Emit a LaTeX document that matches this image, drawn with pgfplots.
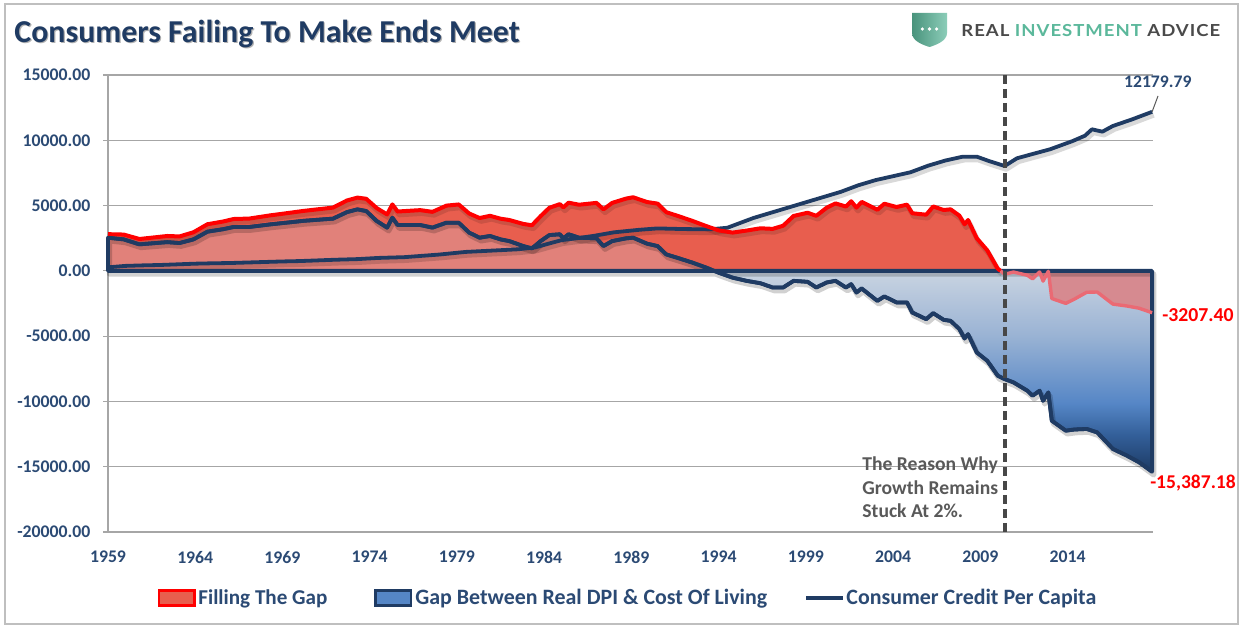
\documentclass[border=0pt]{standalone}
\usepackage{fontspec}
\setmainfont{Carlito}
\newfontfamily\logofont[FakeStretch=1.12, LetterSpace=6]{Lato}
\usepackage{pgfplots}
\pgfplotsset{compat=1.18}
\usepackage{pgfplotstable}

\definecolor{navy}{HTML}{1F3B63}
\definecolor{labnavy}{HTML}{2B4A74}
\definecolor{redline}{HTML}{FF0000}
\definecolor{redfill}{HTML}{E85E4E}
\definecolor{pinkfill}{HTML}{E1817A}
\definecolor{negfill}{HTML}{D68A90}
\definecolor{negline}{HTML}{EA6A74}
\definecolor{gb0}{HTML}{1C3A64}
\definecolor{gb1}{HTML}{335F99}
\definecolor{gb2}{HTML}{5586C6}
\definecolor{gb3}{HTML}{9AB3D4}
\definecolor{gb4}{HTML}{C8D3E1}
\definecolor{teal}{HTML}{5BB89B}
\definecolor{logogray}{HTML}{4A4A4A}
\definecolor{annot}{HTML}{595959}

\pgfdeclareverticalshading{bluegap}{100bp}{color(0bp)=(gb0); color(25bp)=(gb0); color(32bp)=(gb1); color(38bp)=(gb2); color(51bp)=(gb3); color(63bp)=(gb4); color(100bp)=(gb4)}

\pgfplotstableread{
x y
1959.0 2540
1959.9 2410
1960.8 2030
1962.4 2200
1963.1 2130
1963.9 2410
1964.7 3000
1965.6 3190
1966.2 3360
1967.1 3360
1968.3 3560
1969.3 3700
1970.2 3830
1971.9 4000
1972.7 4500
1973.3 4710
1973.8 4580
1974.4 3820
1975.0 3310
1975.3 4070
1975.6 3510
1976.9 3510
1977.6 3310
1978.4 3690
1979.1 3690
1979.7 2930
1980.3 2540
1980.9 2670
1981.5 2410
1982.0 2280
1982.8 1900
1983.3 1720
1983.8 2280
1984.3 2740
1984.9 2800
1985.1 2490
1985.4 2800
1986.0 2540
1987.0 2490
1987.4 1900
1987.9 2280
1988.7 2490
1989.1 2540
1989.9 2080
1990.5 1900
1991.0 1260
1991.8 930
1992.5 630
1993.3 245
1994.0 -140
1994.8 -520
1995.6 -765
1996.4 -950
1997.1 -1275
1997.7 -1275
1998.3 -765
1999.1 -840
1999.6 -1275
2000.2 -890
2000.7 -765
2001.3 -1275
2001.6 -1020
2001.9 -1660
2002.2 -1350
2003.1 -2300
2003.5 -1960
2004.2 -2420
2004.8 -2420
2005.1 -3190
2005.9 -3700
2006.3 -3240
2006.9 -3750
2007.3 -3830
2007.8 -4460
2008.1 -5180
2008.3 -4850
2008.8 -6250
2009.4 -6890
2010.0 -8030
2010.4 -8290
2010.9 -8540
2011.7 -9180
2012.0 -9560
2012.4 -9180
2012.6 -9950
2012.9 -9310
2013.1 -11480
2013.9 -12240
2014.4 -12150
2015.1 -12110
2015.7 -12370
2016.6 -13640
2017.4 -14150
2018.1 -14660
2018.85 -15387
}\gaptab

\pgfplotstableread{
x y
1959.0 2540
1959.9 2410
1960.8 2030
1962.4 2200
1963.1 2130
1963.9 2410
1964.7 3000
1965.6 3190
1966.2 3360
1967.1 3360
1968.3 3560
1969.3 3700
1970.2 3830
1971.9 4000
1972.7 4500
1973.3 4710
1973.8 4580
1974.4 3820
1975.0 3310
1975.3 4070
1975.6 3510
1976.9 3510
1977.6 3310
1978.4 3690
1979.1 3690
1979.7 2930
1980.3 2540
1980.9 2670
1981.5 2410
1982.0 2280
1982.8 1900
1983.3 1720
1983.8 2280
1984.3 2740
1984.9 2800
1985.1 2490
1985.4 2800
1986.0 2540
1987.0 2490
1987.4 1900
1987.9 2280
1988.7 2490
1989.1 2540
1989.9 2080
1990.5 1900
1991.0 1260
1991.8 930
1992.5 630
1993.3 245
1993.75 0
}\gappos

\pgfplotstableread{
x y
1959.0 270
1960.0 380
1961.0 420
1962.0 450
1963.0 500
1964.0 550
1965.0 580
1966.0 600
1967.0 640
1968.0 680
1969.0 720
1970.0 750
1971.0 800
1972.0 850
1973.3 900
1974.5 990
1976.0 1050
1977.0 1150
1978.0 1250
1979.5 1450
1981.0 1550
1982.5 1650
1983.5 1800
1984.3 2100
1985.0 2350
1986.0 2520
1986.8 2670
1988.0 2950
1989.5 3150
1990.5 3250
1992.0 3200
1993.5 3180
1994.5 3300
1996.0 4050
1997.0 4450
1998.0 4850
1999.0 5250
2000.0 5650
2001.0 6050
2002.0 6550
2003.0 6950
2004.0 7250
2005.0 7550
2006.0 8050
2007.0 8450
2008.0 8745
2008.8 8745
2009.5 8410
2010.4 8030
2011.1 8620
2012.0 8950
2013.0 9310
2014.3 9945
2015.0 10350
2015.4 10840
2016.0 10660
2016.6 11095
2017.7 11600
2018.85 12180
}\credtab

\pgfplotstableread{
x y
1959.0 2810
1959.9 2780
1960.8 2440
1962.4 2670
1963.1 2635
1963.9 2955
1964.7 3570
1965.6 3780
1966.2 3970
1967.1 4005
1968.3 4250
1969.3 4425
1970.2 4590
1971.9 4845
1972.7 5390
1973.3 5610
1973.8 5520
1974.4 4810
1975.0 4320
1975.3 5090
1975.6 4545
1976.9 4650
1977.6 4520
1978.4 4995
1979.1 5085
1979.7 4395
1980.3 4045
1980.9 4215
1981.5 3995
1982.0 3895
1982.8 3595
1983.3 3490
1983.8 4190
1984.3 4830
1984.9 5110
1985.1 4860
1985.4 5220
1986.0 5065
1987.0 5205
1987.4 4710
1987.9 5205
1988.7 5535
1989.1 5635
1989.9 5270
1990.5 5150
1991.0 4495
1991.8 4145
1992.5 3825
1993.3 3425
1994.0 3100
1994.8 2930
1995.6 3085
1996.4 3260
1997.1 3215
1997.7 3455
1998.3 4205
1999.1 4450
1999.6 4215
2000.2 4840
2000.7 5165
2001.3 4925
2001.6 5330
2001.9 4840
2002.2 5280
2003.1 4680
2003.5 5140
2004.2 4890
2004.8 5070
2005.1 4410
2005.9 4300
2006.3 4930
2006.9 4660
2007.3 4710
2007.8 4230
2008.1 3565
2008.3 3895
2008.8 2495
2009.4 1570
2010.0 170
2010.16 0
}\redpos

\pgfplotstableread{
x y
2010.16 0
2010.4 -260
2010.9 -90
2011.7 -340
2012.0 -610
2012.4 -85
2012.6 -785
2012.9 -35
2013.1 -2120
2013.9 -2490
2014.4 -2160
2015.1 -1640
2015.7 -1620
2016.6 -2545
2017.4 -2690
2018.1 -2860
2018.85 -3207
}\redneg

\begin{document}
\begin{tikzpicture}
\path[use as bounding box] (0,0) rectangle (620.5bp,312.5bp);
\fill[white] (0,0) rectangle (620.5bp,312.5bp);
\draw[black!25, line width=0.9bp] (2.5bp,0.5bp) rectangle (619bp,310.5bp);

\begin{axis}[
  at={(54bp,46.5bp)}, anchor=south west,
  scale only axis, width=522.5bp, height=228.5bp,
  xmin=1959, xmax=2018.9, ymin=-20000, ymax=15000,
  scaled y ticks=false, scaled x ticks=false,
  axis lines*=left,
  axis line style={draw=black!35, line width=0.6bp},
  ymajorgrids, grid style={draw=black!35, line width=0.6bp},
  ytick={-20000,-15000,-10000,-5000,0,5000,10000,15000},
  yticklabels={-20000.00,-15000.00,-10000.00,-5000.00,0.00,5000.00,10000.00,15000.00},
  xtick={1959,1964,1969,1974,1979,1984,1989,1994,1999,2004,2009,2014},
  xticklabels={1959,1964,1969,1974,1979,1984,1989,1994,1999,2004,2009,2014},
  tick align=outside, major tick length=2.5bp,
  ytick style={draw=black!35, line width=0.6bp},
  xtick style={draw=none},
  ticklabel style={font=\bfseries\fontsize{8.9}{10}\selectfont, text=labnavy},
  yticklabel style={xshift=-2.8bp},
  xticklabel style={yshift=-3.5bp},
  clip=false,
]
\addplot[draw=none, shade, shading=bluegap] table {\gaptab} \closedcycle;
\addplot[draw=none, fill=redfill] table {\redpos} \closedcycle;
\addplot[draw=none, fill=pinkfill] table {\gappos} \closedcycle;
\addplot[draw=none, fill=negfill] table {\redneg} \closedcycle;
% soft shadows under the lines
\addplot[black, opacity=0.18, line width=2.6bp, line join=round, xshift=0.8bp, yshift=-1.6bp] table {\gaptab} \closedcycle;
\addplot[black, opacity=0.15, line width=2.6bp, line join=round, xshift=0.8bp, yshift=-1.6bp] table {\credtab};
\addplot[black, opacity=0.12, line width=2.6bp, line join=round, xshift=0.8bp, yshift=-1.6bp] table {\redpos};
\addplot[draw=navy, line width=1.9bp, line join=round] table {\gaptab} \closedcycle;
\addplot[navy, line width=1.9bp, line join=round] table {\credtab};
\addplot[redline, line width=2bp, line join=round] table {\redpos};
\addplot[negline, line width=1.7bp, line join=round] table {\redneg};
\addplot[navy, line width=1.9bp, line join=round] table {\gaptab};
\addplot[black!72, line width=1.8bp, dash pattern=on 4.5bp off 2.5bp] coordinates {(2010.4,15000) (2010.4,-20000)};
\end{axis}

% title
\node[anchor=base west, text=black!30, inner sep=0pt, font=\bfseries\fontsize{16}{18}\selectfont] at (7.6bp,290.6bp) {Consumers Failing To Make Ends Meet};
\node[anchor=base west, text=navy, inner sep=0pt, font=\bfseries\fontsize{16}{18}\selectfont] at (7bp,291.3bp) {Consumers Failing To Make Ends Meet};

% logo
\shade[left color=teal!80!black, right color=teal!70!white] (456bp,306bp) -- (473.5bp,306bp) -- (473.5bp,296bp) .. controls (473.5bp,292bp) and (468bp,290bp) .. (464.75bp,289bp) .. controls (461.5bp,290bp) and (456bp,292bp) .. (456bp,296bp) -- cycle;
\fill[white] (461.2bp,298bp) circle (0.9bp) (464.75bp,298bp) circle (0.9bp) (468.3bp,298bp) circle (0.9bp);
\node[anchor=base west, inner sep=0pt, font=\logofont\bfseries\fontsize{8.3}{10}\selectfont] at (480.5bp,294.2bp) {\textcolor{logogray}{REAL} \textcolor{teal}{INVESTMENT} \textcolor{logogray}{ADVICE}};

% data labels
\node[anchor=base, inner sep=0pt, text=labnavy, font=\bfseries\fontsize{8.85}{10}\selectfont] at (578.9bp,268.5bp) {12179.79};
\draw[black!65, line width=0.5bp] (579bp,264.5bp) -- (576bp,256.5bp);
\node[anchor=base, inner sep=0pt, text=redline, font=\bfseries\fontsize{9.9}{11}\selectfont] at (599bp,151.7bp) {-3207.40};
\node[anchor=base, inner sep=0pt, text=redline, font=\bfseries\fontsize{9.8}{11}\selectfont] at (596.5bp,68bp) {-15,387.18};

% annotation
\node[anchor=base west, inner sep=0pt, text=annot, font=\bfseries\fontsize{9.85}{11}\selectfont] at (431bp,77.2bp) {The Reason Why};
\node[anchor=base west, inner sep=0pt, text=annot, font=\bfseries\fontsize{9.85}{11}\selectfont] at (431bp,65bp) {Growth Remains};
\node[anchor=base west, inner sep=0pt, text=annot, font=\bfseries\fontsize{9.85}{11}\selectfont] at (431bp,53.5bp) {Stuck At 2\%.};

% legend
\fill[redfill] (79.5bp,9.8bp) rectangle (97.2bp,17.2bp);
\draw[redline, line width=1.4bp] (79.5bp,9.8bp) rectangle (97.2bp,17.2bp);
\node[anchor=base west, inner sep=0pt, text=labnavy, font=\bfseries\fontsize{10.6}{12}\selectfont] at (99bp,10.3bp) {Filling The Gap};
\shade[top color=gb2, middle color=white, bottom color=gb2] (187.8bp,9.8bp) rectangle (205.5bp,17.2bp);
\draw[navy, line width=1.4bp] (187.8bp,9.8bp) rectangle (205.5bp,17.2bp);
\node[anchor=base west, inner sep=0pt, text=labnavy, font=\bfseries\fontsize{11}{12}\selectfont] at (207.5bp,10.3bp) {Gap Between Real DPI \& Cost Of Living};
\draw[navy, line width=1.7bp] (403bp,13.5bp) -- (421.5bp,13.5bp);
\node[anchor=base west, inner sep=0pt, text=labnavy, font=\bfseries\fontsize{11}{12}\selectfont] at (423bp,10.3bp) {Consumer Credit Per Capita};
\end{tikzpicture}
\end{document}
